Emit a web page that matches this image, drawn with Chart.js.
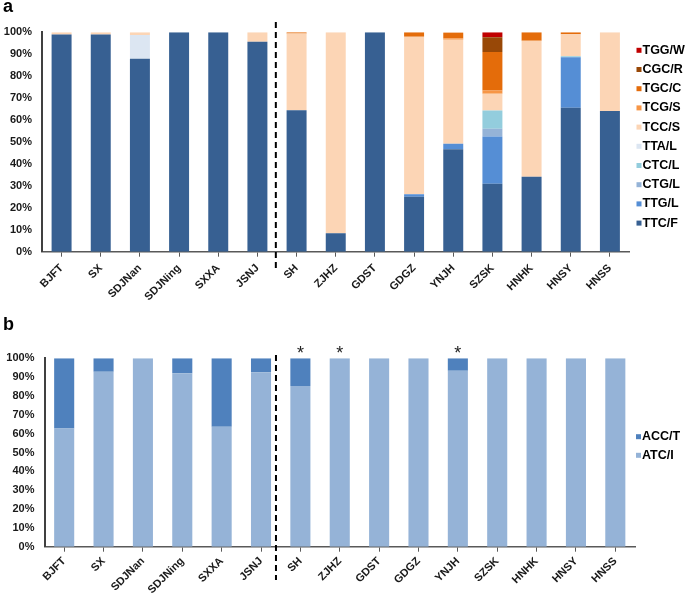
<!DOCTYPE html>
<html>
<head>
<meta charset="utf-8">
<script src="https://cdn.jsdelivr.net/npm/chart.js@4"></script>
<style>
  body { margin: 0; background: #fff; }
  .panel { position: absolute; left: 0; width: 685px; }
  .tag { position: absolute; left: 3px; font: bold 18px "Liberation Sans", Arial, sans-serif; color: #000; }
</style>
</head>
<body>
<div class="panel" style="top:0;height:300px"><canvas id="chartA" width="685" height="300"></canvas></div>
<div class="panel" style="top:300px;height:295px"><canvas id="chartB" width="685" height="295"></canvas></div>
<div class="tag" style="top:-4px">a</div>
<div class="tag" style="top:314px">b</div>
<script>
// populations (same order in both panels)
const populations = ['BJFT', 'SX', 'SDJNan', 'SDJNing', 'SXXA', 'JSNJ', 'SH', 'ZJHZ', 'GDST', 'GDGZ', 'YNJH', 'SZSK', 'HNHK', 'HNSY', 'HNSS'];

// panel a - codon frequencies (%), stacked bottom to top
const ttcF = [99, 99, 88, 100, 100, 95.7, 64.5, 8.4, 100, 25, 46.7, 31, 34.2, 65.6, 64.1];
const ttgL = [0, 0, 0, 0, 0, 0, 0, 0, 0, 1.2, 2.5, 21.5, 0, 23, 0];
const ctgL = [0, 0, 0, 0, 0, 0, 0, 0, 0, 0, 0, 3.5, 0, 0, 0];
const ctcL = [0, 0, 0, 0, 0, 0, 0, 0, 0, 0, 0, 8.4, 0, 0.5, 0];
const ttaL = [0, 0, 10.8, 0, 0, 0, 0, 0, 0, 0, 0, 0, 0, 0, 0];
const tccS = [1, 1, 1.2, 0, 0, 4.3, 35, 91.6, 0, 71.8, 47.4, 7.6, 62, 10, 35.9];
const tcgS = [0, 0, 0, 0, 0, 0, 0, 0, 0, 0, 0.7, 1.5, 0, 0, 0];
const tgcC = [0, 0, 0, 0, 0, 0, 0.5, 0, 0, 2, 2.6, 17.5, 3.8, 0.9, 0];
const cgcR = [0, 0, 0, 0, 0, 0, 0, 0, 0, 0, 0, 6.8, 0, 0, 0];
const tggW = [0, 0, 0, 0, 0, 0, 0, 0, 0, 0, 0, 2.2, 0, 0, 0];

// panel b
const atcI = [62.8, 92.9, 100, 92, 63.7, 92.6, 85.3, 100, 100, 100, 93.4, 100, 100, 100, 100];
const accT = [37.2, 7.1, 0, 8, 36.3, 7.4, 14.7, 0, 0, 0, 6.6, 0, 0, 0, 0];
const starred = ['SH', 'ZJHZ', 'YNJH'];

const yTicks = [0, 10, 20, 30, 40, 50, 60, 70, 80, 90, 100];

const FONT = '"Liberation Sans", Arial, sans-serif';
Chart.defaults.font.family = FONT;
Chart.defaults.color = '#1a1a1a';

// divider line, legend and asterisks
const extras = {
  id: 'extras',
  afterDraw(chart, args, opts) {
    const { ctx, chartArea, scales: { x } } = chart;
    ctx.save();
    const xd = x.getPixelForValue(opts.divider);
    ctx.strokeStyle = '#000';
    ctx.lineWidth = 2;
    ctx.setLineDash([6, 4]);
    ctx.beginPath();
    ctx.moveTo(xd, opts.lineTop);
    ctx.lineTo(xd, opts.lineBottom);
    ctx.stroke();
    ctx.setLineDash([]);

    ctx.font = 'bold 12.5px ' + FONT;
    ctx.textBaseline = 'middle';
    ctx.textAlign = 'left';
    chart.data.datasets.slice().reverse().forEach((ds, i) => {
      const y = opts.legendTop + i * opts.legendStep;
      ctx.fillStyle = ds.backgroundColor;
      ctx.fillRect(opts.legendX, y - 2.5, 5, 5);
      ctx.fillStyle = '#000';
      ctx.fillText(ds.label, opts.legendX + 6, y);
    });

    if (opts.stars) {
      ctx.font = '18px ' + FONT;
      ctx.textAlign = 'center';
      ctx.textBaseline = 'alphabetic';
      ctx.fillStyle = '#222';
      opts.stars.forEach(c => {
        ctx.fillText('*', x.getPixelForValue(populations.indexOf(c)), chartArea.top + 0.5);
      });
    }
    ctx.restore();
  }
};

function makeOptions(padLeft, padRight, xHeight, labelPad, extraOpts) {
  return {
    responsive: false,
    animation: false,
    layout: { padding: { left: padLeft, right: padRight, top: 0, bottom: 0 } },
    plugins: { legend: { display: false }, tooltip: { enabled: false }, extras: extraOpts },
    scales: {
      x: {
        stacked: true,
        afterFit: s => { s.height = xHeight; },
        grid: { display: true, drawOnChartArea: false, drawTicks: true, tickLength: 5, offset: false, color: '#595959' },
        border: { color: '#595959', width: 1.5 },
        ticks: { autoSkip: false, maxRotation: 45, minRotation: 45, padding: labelPad, font: { size: 11, weight: 'bold' } }
      },
      y: {
        stacked: true,
        min: 0,
        max: 100,
        afterFit: s => { s.width = 42; },
        afterBuildTicks: s => { s.ticks = yTicks.map(v => ({ value: v })); },
        grid: { display: false, drawTicks: false },
        border: { color: '#404040', width: 2 },
        ticks: { padding: 10, font: { size: 11, weight: 'bold' }, callback: v => v + '%' }
      }
    }
  };
}

function ds(label, data, color) {
  return { label, data, backgroundColor: color, borderWidth: 0, barPercentage: 0.51, categoryPercentage: 1 };
}

// panel a
const optA = makeOptions(0, 55.5, 48.3, 5, {
  divider: 5.47, lineTop: 22, lineBottom: 270,
  legendX: 636.5, legendTop: 50.3, legendStep: 19.2
});
optA.layout.padding.top = 32.3;
new Chart(document.getElementById('chartA').getContext('2d'), {
  type: 'bar',
  data: {
    labels: populations,
    datasets: [
      ds('TTC/F', ttcF, '#376092'),
      ds('TTG/L', ttgL, '#558ED5'),
      ds('CTG/L', ctgL, '#95B3D7'),
      ds('CTC/L', ctcL, '#93CDDD'),
      ds('TTA/L', ttaL, '#DCE6F2'),
      ds('TCC/S', tccS, '#FCD5B5'),
      ds('TCG/S', tcgS, '#F79646'),
      ds('TGC/C', tgcC, '#E46C0A'),
      ds('CGC/R', cgcR, '#984807'),
      ds('TGG/W', tggW, '#C00000')
    ]
  },
  options: optA,
  plugins: [extras]
});

// panel b
const optB = makeOptions(2.5, 50, 48.3, 3, {
  divider: 5.38, lineTop: 55, lineBottom: 280,
  legendX: 636, legendTop: 136.7, legendStep: 18.6, stars: starred
});
optB.layout.padding.top = 58.3;
new Chart(document.getElementById('chartB').getContext('2d'), {
  type: 'bar',
  data: {
    labels: populations,
    datasets: [
      ds('ATC/I', atcI, '#95B3D7'),
      ds('ACC/T', accT, '#4F81BD')
    ]
  },
  options: optB,
  plugins: [extras]
});
</script>
</body>
</html>
